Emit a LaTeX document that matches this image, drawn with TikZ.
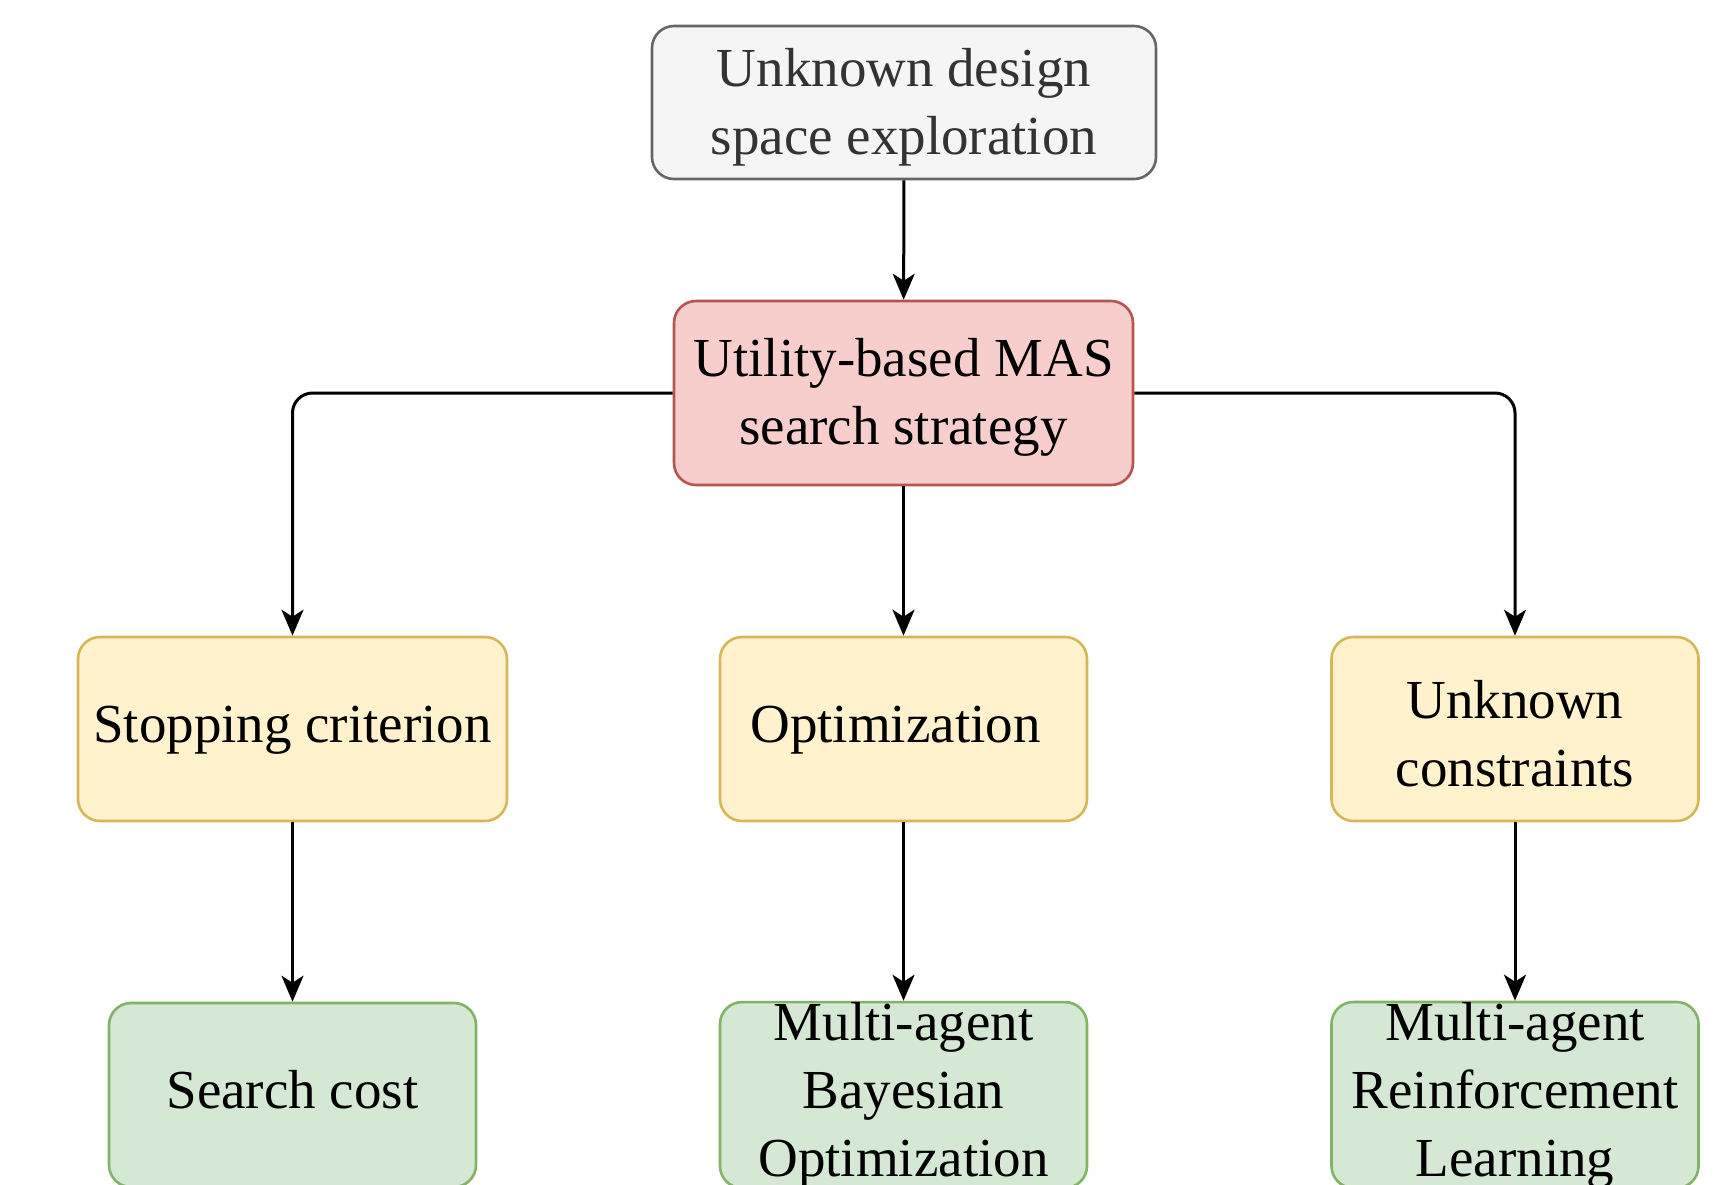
\documentclass[tikz,border=0pt]{standalone}
\usepackage{fontspec}
\setmainfont{Liberation Serif}
\usetikzlibrary{arrows.meta}

\definecolor{greyfill}{HTML}{F5F5F5}
\definecolor{greyline}{HTML}{666666}
\definecolor{greytext}{HTML}{333333}
\definecolor{redfill}{HTML}{F8CECC}
\definecolor{redline}{HTML}{B85450}
\definecolor{yellowfill}{HTML}{FFF2CC}
\definecolor{yellowline}{HTML}{D6B656}
\definecolor{greenfill}{HTML}{D5E8D4}
\definecolor{greenline}{HTML}{82B366}

\tikzset{
	box/.style={draw, line width=1.3pt, rounded corners=11pt, inner sep=0pt, align=center,
		minimum height=92pt, font=\fontsize{27.5}{34}\selectfont},
	topbox/.style={box, fill=greyfill, draw=greyline, text=greytext, minimum width=252pt, minimum height=76.5pt},
	masbox/.style={box, fill=redfill, draw=redline, minimum width=229.5pt},
	taskbox/.style={box, fill=yellowfill, draw=yellowline, minimum width=183.5pt},
	methodbox/.style={box, fill=greenfill, draw=greenline, minimum width=183.5pt},
	link/.style={line width=1.5pt, rounded corners=10pt, -{Stealth[length=13pt, width=11pt, inset=3.5pt]}}
}

\begin{document}
\begin{tikzpicture}[x=0.5pt, y=-0.5pt]
		%%%%% FRAME %%%%%
		\useasboundingbox (0, 0) rectangle (1723, 1184);
		\clip (0, 0) rectangle (1723, 1184);
		
		%%%%% BOXES %%%%%
		\node[topbox] (dse) at (904, 102.5) {\strut Unknown design\\space exploration};
		\node[masbox] (mas) at (903.5, 393) {\strut Utility-based MAS\\search strategy};
		
		\node[taskbox, minimum width=214.5pt] (stop) at (292.5, 729) {\strut Stopping criterion};
		\node[taskbox] (opt) at (903.5, 729) {\strut Optimization\hspace*{8pt}};
		\node[taskbox] (unk) at (1515, 729) {\strut Unknown\\constraints};
		
		\node[methodbox] (cost) at (292.5, 1095) {\strut Search cost};
		\node[methodbox] (mabo) at (903.5, 1095) {Multi-agent\\Bayesian\\Optimization};
		\node[methodbox] (marl) at (1515, 1095) {Multi-agent\\Reinforcement\\Learning};
		
		%%%%% LINKS %%%%%
		\draw[link] (dse) -- (mas);
		\draw[link] (mas.west) -| (stop.north);
		\draw[link] (mas) -- (opt);
		\draw[link] (mas.east) -| (unk.north);
		
		\draw[link] (stop) -- (cost);
		\draw[link] (opt) -- (mabo);
		\draw[link] (unk) -- (marl);
	\end{tikzpicture}
\end{document}
